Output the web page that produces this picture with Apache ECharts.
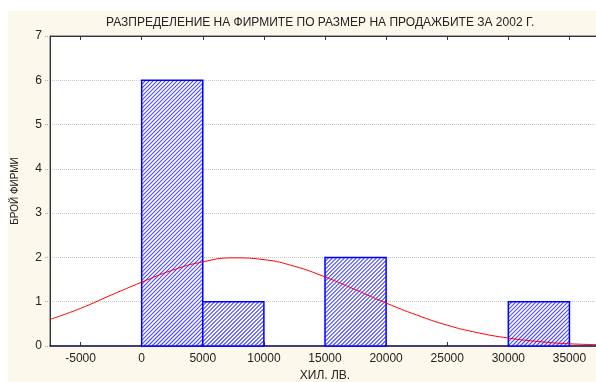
<!DOCTYPE html>
<html>
<head>
<meta charset="utf-8">
<script src="https://cdn.jsdelivr.net/npm/echarts@6/dist/echarts.min.js"></script>
<style>
  html, body { margin: 0; padding: 0; background: #fff; }
  #chart { width: 596px; height: 382px; }
</style>
</head>
<body>
<div id="chart"></div>
<script>
// histogram bins (start, end) and counts
const binStart = [0, 5000, 10000, 15000, 20000, 25000, 30000];
const binEnd   = [5000, 10000, 15000, 20000, 25000, 30000, 35000];
const counts   = [6, 1, 0, 2, 0, 0, 1];

// fitted normal curve
const curveX = [-7500, -5000, -2500, 0, 2500, 5000, 7500, 10000, 12500, 15000,
                17500, 20000, 22500, 25000, 27500, 30000, 32500, 35000, 37500];
const curveY = [0.60, 0.85, 1.15, 1.44, 1.71, 1.90, 1.99, 1.95, 1.80, 1.56,
                1.27, 0.97, 0.70, 0.47, 0.30, 0.18, 0.10, 0.05, 0.03];

const xTicks = [-5000, 0, 5000, 10000, 15000, 20000, 25000, 30000, 35000];

const titleText = 'РАЗПРЕДЕЛЕНИЕ НА ФИРМИТЕ ПО РАЗМЕР НА ПРОДАЖБИТЕ ЗА 2002 Г.';

// "/" hatching inside a rect, as one path
const hatchPath = (x0, y0, x1, y1, step) => {
  let d = '';
  for (let k = x0 + y0 + step; k < x1 + y1; k += step) {
    const ax = Math.max(x0, k - y1), bx = Math.min(x1, k - y0);
    if (bx <= ax) continue;
    d += 'M' + ax + ' ' + (k - ax) + 'L' + bx + ' ' + (k - bx);
  }
  return d;
};

const barData = binStart.map((s, i) => [s, binEnd[i], counts[i]]);
const lineData = curveX.map((x, i) => [x, curveY[i]]);

const chart = echarts.init(document.getElementById('chart'));

const option = {
  animation: false,
  textStyle: { fontFamily: 'Liberation Sans, Arial, sans-serif' },
  graphic: [
    { type: 'rect', z: -10, shape: { x: 8, y: 11, width: 600, height: 380 },
      style: { fill: '#fcf8ec' }, silent: true },
    { type: 'text', left: 106, top: 17,
      style: { text: titleText, fontSize: 12, fill: '#222', fontFamily: 'Liberation Sans, Arial, sans-serif' } }
  ],
  grid: {
    left: 50, top: 36, right: -4, bottom: 36,
    outerBoundsMode: 'none', containLabel: false,
    show: true, backgroundColor: '#fff', borderColor: '#555', borderWidth: 1
  },
  xAxis: [{
    type: 'value', min: -7500, max: 37500,
    name: 'ХИЛ. ЛВ.', nameLocation: 'middle', nameGap: 24,
    nameTextStyle: { fontSize: 12, color: '#222' },
    axisLine: { show: true, onZero: false, lineStyle: { color: '#1a1a60', width: 1.5 } },
    axisTick: { show: true, inside: true, length: 4, customValues: xTicks, lineStyle: { color: '#333' } },
    axisLabel: { customValues: xTicks, fontSize: 12, color: '#222', margin: 7, formatter: v => String(v) },
    splitLine: { show: false }
  }, {
    type: 'value', position: 'top', min: -7500, max: 37500,
    axisLine: { show: true, onZero: false, lineStyle: { color: '#333' } },
    axisTick: { show: true, inside: true, length: 4, customValues: xTicks, lineStyle: { color: '#333' } },
    axisLabel: { show: false },
    splitLine: { show: false }
  }],
  yAxis: {
    type: 'value', min: 0, max: 7, interval: 1,
    name: 'БРОЙ ФИРМИ', nameLocation: 'middle', nameGap: 30,
    nameTextStyle: { fontSize: 10, color: '#222' },
    axisLine: { show: true, onZero: false, lineStyle: { color: '#333' } },
    axisTick: { show: true, length: 6, lineStyle: { color: '#aaa', type: 'dotted' } },
    axisLabel: { fontSize: 12, color: '#222', margin: 8 },
    splitLine: { show: true, lineStyle: { color: '#c8c8c8', type: 'dotted' } }
  },
  series: [{
    type: 'custom',
    data: barData,
    encode: { x: [0, 1], y: 2 },
    renderItem: (params, api) => {
      if (api.value(2) === 0) return null;
      const p0 = api.coord([api.value(0), api.value(2)]);
      const p1 = api.coord([api.value(1), 0]);
      return {
        type: 'group',
        children: [{
          type: 'rect',
          shape: { x: p0[0], y: p0[1], width: p1[0] - p0[0], height: p1[1] - p0[1] },
          style: { fill: '#fff', stroke: null }
        }, {
          type: 'path',
          shape: { pathData: hatchPath(p0[0], p0[1], p1[0], p1[1], 4) },
          style: { fill: null, stroke: '#4a4aff', lineWidth: 1.1 }
        }, {
          type: 'rect',
          shape: { x: p0[0], y: p0[1], width: p1[0] - p0[0], height: p1[1] - p0[1] },
          style: { fill: null, stroke: '#0000ff', lineWidth: 1.5 }
        }]
      };
    }
  }, {
    type: 'line',
    data: lineData,
    smooth: true,
    symbol: 'none',
    z: 5,
    lineStyle: { color: '#ff0000', width: 1 }
  }]
};

chart.setOption(option);
</script>
</body>
</html>
